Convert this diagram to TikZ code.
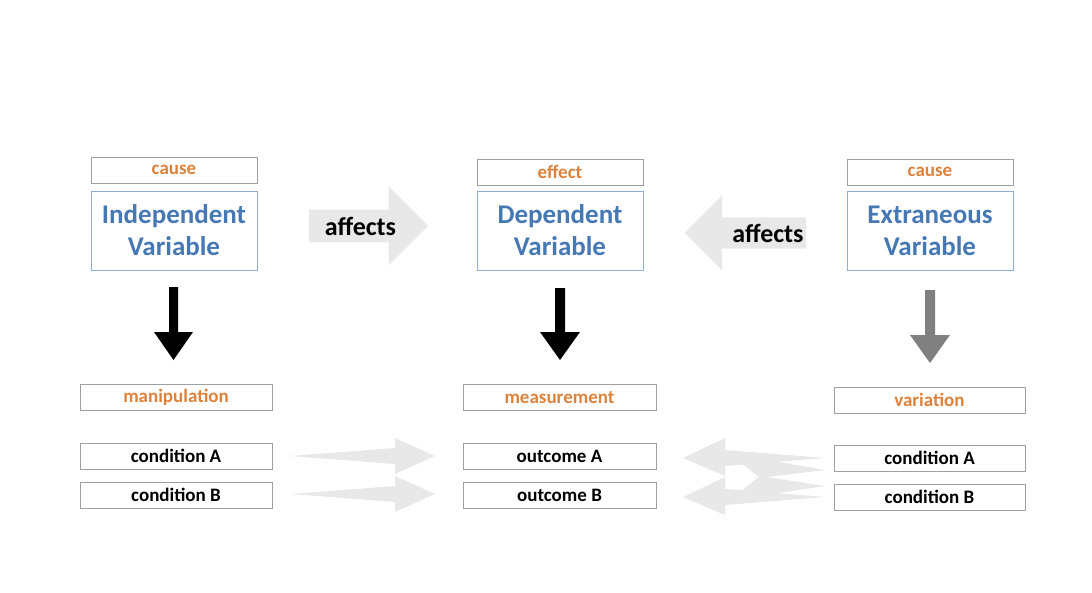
\documentclass[tikz,border=0pt]{standalone}
\usepackage{fontspec}
\setmainfont{Carlito}
\usetikzlibrary{shapes.arrows}
\definecolor{labelorange}{RGB}{220,130,60}
\definecolor{varblue}{RGB}{70,120,180}
\definecolor{boxgray}{RGB}{160,160,160}
\definecolor{faint}{RGB}{232,232,232}
\tikzset{
  tag/.style={draw=boxgray,thin,minimum height=26pt,inner sep=0pt,font=\bfseries\fontsize{19}{22}\selectfont},
  var/.style={draw=varblue!60,thin,minimum width=166pt,minimum height=79pt,align=center,text=varblue,font=\bfseries\fontsize{27}{32}\selectfont},
  fat/.style={fill=faint,draw=none}
}
\begin{document}
\begin{tikzpicture}[x=1pt,y=-1pt]
\useasboundingbox (0,0) rectangle (1092,592);

	% top labels
	\node[tag,minimum width=166pt,text=labelorange] (c1) at (174,170){cause};
	\node[tag,minimum width=166pt,text=labelorange] (e1) at (560,172){effect};
	\node[tag,minimum width=166pt,text=labelorange] (c2) at (930,172){cause};

	% variables
	\node[var] (iv) at (174,230.5){Independent\\Variable};
	\node[var] (dv) at (560,230.5){Dependent\\Variable};
	\node[var] (ev) at (930,230.5){Extraneous\\Variable};

	% affects
	\node[single arrow,fill=faint,minimum height=119pt,minimum width=79pt,single arrow head extend=16pt,inner sep=2pt,font=\bfseries\fontsize{26}{30}\selectfont,anchor=west] (a1) at (309,226){affects\hspace{30pt}};
	\node[single arrow,shape border rotate=180,fill=faint,minimum height=118pt,minimum width=75pt,single arrow head extend=16pt,inner sep=2pt,font=\bfseries\fontsize{26}{30}\selectfont,anchor=east] (a2) at (806,233){\hspace{30pt}affects};

	% down arrows
	\fill[black] (169,287) -- (178,287) -- (178,332) -- (193,332) -- (173.5,360) -- (154,332) -- (169,332) -- cycle;
	\fill[black] (555,288) -- (565,288) -- (565,332) -- (580,332) -- (560,360) -- (540,332) -- (555,332) -- cycle;
	\fill[gray] (925,290) -- (935,290) -- (935,335) -- (950,335) -- (930,363) -- (910,335) -- (925,335) -- cycle;

	% bottom labels
	\node[tag,minimum width=192pt,text=labelorange] (man) at (176,397.5){manipulation};
	\node[tag,minimum width=193pt,text=labelorange] (mea) at (559.5,397.5){measurement};
	\node[tag,minimum width=191pt,text=labelorange] (var) at (929.5,400){variation};

	\node[tag,minimum width=192pt] (ca1) at (176,456){condition A};
	\node[tag,minimum width=192pt] (cb1) at (176,495){condition B};
	\node[tag,minimum width=193pt] (oa) at (559.5,456){outcome A};
	\node[tag,minimum width=193pt] (ob) at (559.5,495){outcome B};
	\node[tag,minimum width=191pt] (ca2) at (929.5,458){condition A};
	\node[tag,minimum width=191pt] (cb2) at (929.5,497){condition B};

	% faint arrows
	\fill[fat] (290,456) -- (395,448) -- (395,438) -- (435,456) -- (395,474) -- (395,464) -- cycle;
	\fill[fat] (290,494) -- (395,486) -- (395,476) -- (435,494) -- (395,512) -- (395,502) -- cycle;
	\fill[fat] (825,458) -- (725,450) -- (725,438) -- (683,458) -- (725,476) -- (725,466) -- cycle;
	\fill[fat] (825,497) -- (725,489) -- (725,477) -- (683,497) -- (725,515) -- (725,505) -- cycle;
	\fill[fat] (825,470) -- (760,478) -- (740,462) -- (745,456) -- cycle;
	\fill[fat] (825,486) -- (745,498) -- (740,492) -- (760,476) -- cycle;
\end{tikzpicture}
\end{document}
